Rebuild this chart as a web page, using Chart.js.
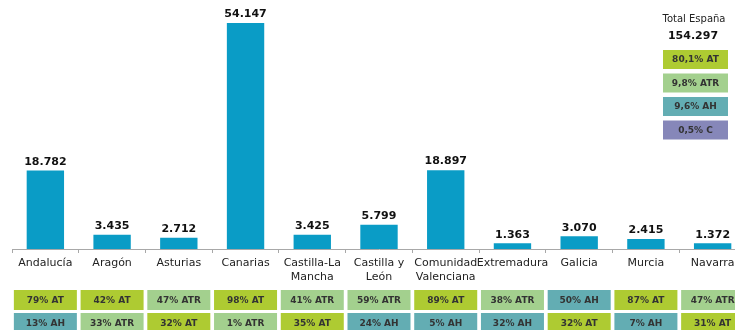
<!DOCTYPE html>
<html lang="es">
<head>
<meta charset="utf-8">
<title>Plazas por comunidad</title>
<script src="https://cdn.jsdelivr.net/npm/chart.js@4/dist/chart.umd.min.js"></script>
<style>
    html, body { margin: 0; padding: 0; background: #fff; overflow: hidden; }
    #wrap { width: 746px; height: 330px; }
</style>
</head>
<body>
<div id="wrap"><canvas id="regionChart" width="746" height="330"></canvas></div>
<script>
const regions = ['Andalucía', 'Aragón', 'Asturias', 'Canarias', ['Castilla-La', 'Mancha'], ['Castilla y', 'León'],
    ['Comunidad', 'Valenciana'], 'Extremadura', 'Galicia', 'Murcia', 'Navarra'];
const totals = [18782, 3435, 2712, 54147, 3425, 5799, 18897, 1363, 3070, 2415, 1372];
const shareFirst = ['79% AT', '42% AT', '47% ATR', '98% AT', '41% ATR', '59% ATR', '89% AT', '38% ATR', '50% AH', '87% AT', '47% ATR'];
const shareSecond = ['13% AH', '33% ATR', '32% AT', '1% ATR', '35% AT', '24% AH', '5% AH', '32% AH', '32% AT', '7% AH', '31% AT'];
const spainTitle = 'Total España';
const spainTotal = 154297;
const spainShares = ['80,1% AT', '9,8% ATR', '9,6% AH', '0,5% C'];

const barColor = '#0a9cc6';
const typeColors = { AT: '#aecb32', ATR: '#a3d08e', AH: '#63adb3', C: '#8687b9' };
const FONT = "'DejaVu Sans', Verdana, sans-serif";

function fmt(n) {
    return String(n).replace(/\B(?=(\d{3})+(?!\d))/g, '.');
}

function typeOf(label) {
    return label.split(' ').pop();
}

function drawBox(ctx, x, y, w, h, label) {
    ctx.fillStyle = typeColors[typeOf(label)];
    ctx.fillRect(x, y, w, h);
    ctx.fillStyle = '#333';
    ctx.font = 'bold 9px ' + FONT;
    ctx.textAlign = 'center';
    ctx.textBaseline = 'middle';
    ctx.fillText(label, x + w / 2, y + h / 2 + 0.5);
}

// value labels, share boxes under each region and the national summary
const extras = {
    id: 'extras',
    afterDraw(chart) {
        const ctx = chart.ctx;
        const xs = chart.scales.x;
        const bars = chart.getDatasetMeta(0).data;
        ctx.save();

        ctx.fillStyle = '#111';
        ctx.font = 'bold 11px ' + FONT;
        ctx.textAlign = 'center';
        ctx.textBaseline = 'bottom';
        bars.forEach((bar, i) => {
            ctx.fillText(fmt(totals[i]), bar.x, bar.y - 3);
        });

        const boxW = 63;
        regions.forEach((r, i) => {
            const cx = xs.getPixelForValue(i);
            drawBox(ctx, cx - boxW / 2, 290, boxW, 20, shareFirst[i]);
            drawBox(ctx, cx - boxW / 2, 313, boxW, 20, shareSecond[i]);
        });

        ctx.fillStyle = '#222';
        ctx.textAlign = 'center';
        ctx.textBaseline = 'middle';
        ctx.font = '10px ' + FONT;
        ctx.fillText(spainTitle, 694, 19);
        ctx.font = 'bold 11px ' + FONT;
        ctx.fillStyle = '#111';
        ctx.fillText(fmt(spainTotal), 693, 36);
        spainShares.forEach((s, i) => {
            drawBox(ctx, 663, 50 + i * 23.5, 65, 19, s);
        });

        ctx.restore();
    }
};

new Chart(document.getElementById('regionChart').getContext('2d'), {
    type: 'bar',
    data: {
        labels: regions,
        datasets: [{
            data: totals,
            backgroundColor: barColor,
            borderWidth: 0,
            barPercentage: 0.56,
            categoryPercentage: 1
        }]
    },
    options: {
        responsive: false,
        devicePixelRatio: 1,
        animation: false,
        layout: { padding: { left: 12, top: 23, right: 0, bottom: 0 } },
        plugins: {
            legend: { display: false },
            tooltip: { enabled: false }
        },
        scales: {
            y: { display: false, min: 0, max: 54147 },
            x: {
                afterFit: (axis) => { axis.height = 81; },
                border: { color: '#a8a8a8', width: 1 },
                grid: { drawOnChartArea: false, drawTicks: true, tickLength: 4, color: '#a8a8a8' },
                ticks: {
                    color: '#222',
                    padding: 3,
                    autoSkip: false,
                    maxRotation: 0,
                    minRotation: 0,
                    font: { family: FONT, size: 11, lineHeight: '14px' }
                }
            }
        }
    },
    plugins: [extras]
});
</script>
</body>
</html>
